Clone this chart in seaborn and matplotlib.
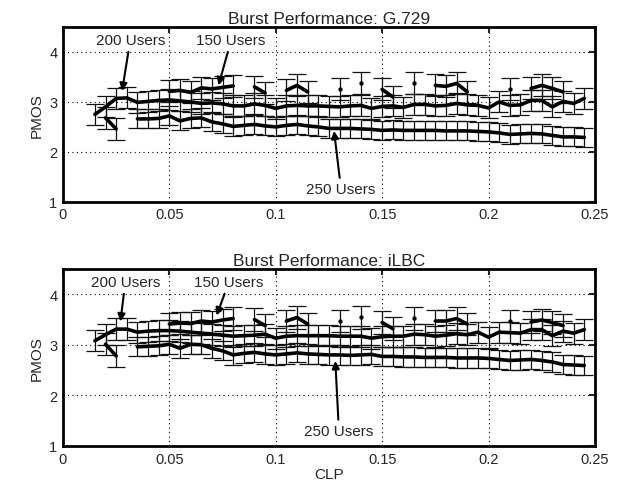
import numpy as np
import pandas as pd
import matplotlib
matplotlib.use("Agg")
import matplotlib.pyplot as plt
import seaborn as sns

# CLP grid (step 0.005)
clp_200 = np.round(np.arange(0.015, 0.2451, 0.005), 3)
clp_250 = np.round(np.arange(0.035, 0.2451, 0.005), 3)
clp_150 = np.round(np.arange(0.015, 0.2451, 0.005), 3)

# G.729
g729_200 = [2.75, 2.90, 3.07, 3.08, 2.99, 3.01, 3.03, 3.04, 3.02, 3.00, 2.97, 2.98,
            2.96, 2.92, 2.92, 2.96, 2.93, 2.87, 2.92, 2.93, 2.92, 2.92, 2.91, 2.90,
            2.92, 2.93, 2.87, 2.91, 2.92, 2.89, 2.95, 2.95, 2.92, 2.93, 2.97, 2.94,
            2.93, 2.88, 3.00, 2.93, 2.94, 3.03, 3.03, 2.90, 3.01, 2.97, 3.07]
g729_250 = [2.66, 2.66, 2.67, 2.72, 2.62, 2.67, 2.68, 2.60, 2.56, 2.51, 2.53, 2.55,
            2.52, 2.50, 2.53, 2.55, 2.52, 2.50, 2.47, 2.47, 2.47, 2.46, 2.45, 2.43,
            2.44, 2.43, 2.43, 2.43, 2.43, 2.42, 2.42, 2.42, 2.41, 2.40, 2.38, 2.35,
            2.36, 2.37, 2.36, 2.33, 2.30, 2.30, 2.29]
nan = np.nan
g729_150 = [nan, 2.68, 2.46, nan, nan, nan, nan, 3.21, 3.23, 3.19, 3.28, 3.26,
            3.29, 3.32, nan, 3.30, 3.18, nan, 3.23, 3.33, 3.20, nan, nan, 3.25,
            nan, 3.37, nan, 3.25, 3.10, nan, 3.37, nan, 3.33, 3.31, 3.37, 3.20,
            nan, nan, nan, 3.25, nan, 3.27, 3.33, 3.27, 3.20, nan, nan]

# iLBC
ilbc_200 = [3.08, 3.20, 3.31, 3.31, 3.25, 3.27, 3.28, 3.28, 3.27, 3.25, 3.23, 3.21,
            3.19, 3.17, 3.18, 3.19, 3.21, 3.13, 3.17, 3.18, 3.18, 3.18, 3.18, 3.17,
            3.17, 3.17, 3.13, 3.16, 3.17, 3.17, 3.21, 3.20, 3.17, 3.19, 3.22, 3.20,
            3.25, 3.15, 3.25, 3.24, 3.23, 3.30, 3.30, 3.18, 3.27, 3.23, 3.30]
ilbc_250 = [2.96, 2.97, 2.98, 3.01, 2.93, 3.01, 3.00, 2.93, 2.88, 2.80, 2.83, 2.85,
            2.82, 2.80, 2.82, 2.84, 2.82, 2.81, 2.80, 2.80, 2.79, 2.80, 2.81, 2.77,
            2.77, 2.76, 2.76, 2.75, 2.75, 2.75, 2.74, 2.74, 2.74, 2.73, 2.71, 2.69,
            2.70, 2.71, 2.69, 2.66, 2.61, 2.60, 2.59]
ilbc_150 = [nan, 3.01, 2.78, nan, nan, nan, nan, 3.41, 3.43, 3.42, 3.47, 3.45,
            3.49, 3.52, nan, 3.50, 3.38, nan, 3.47, 3.54, 3.41, nan, nan, 3.47,
            nan, 3.54, nan, 3.44, 3.32, nan, 3.52, nan, 3.47, 3.47, 3.52, 3.41,
            nan, nan, nan, 3.47, nan, 3.45, 3.49, 3.44, 3.38, nan, nan]

# error bar half-widths (approx.)
err_200 = 0.21
err_250 = 0.19
err_150 = 0.22

titles = ["Burst Performance: G.729", "Burst Performance: iLBC"]


def segments(x, y):
    df = pd.DataFrame({"CLP": x, "PMOS": y})
    df["seg"] = df["PMOS"].isna().cumsum()
    return df.dropna()


def draw_panel(ax, y200, y250, y150, title, label_pos):
    for x, y, e in [(clp_200, y200, err_200), (clp_250, y250, err_250), (clp_150, y150, err_150)]:
        ax.errorbar(x, y, yerr=e, fmt="none", ecolor="#111111", elinewidth=0.9,
                    capsize=6.5, capthick=0.9, zorder=2)
    sns.lineplot(x=clp_200, y=y200, ax=ax, color="black", linewidth=2.6, zorder=3)
    sns.lineplot(x=clp_250, y=y250, ax=ax, color="black", linewidth=2.6, zorder=3)
    df150 = segments(clp_150, y150)
    sns.lineplot(data=df150, x="CLP", y="PMOS", units="seg", estimator=None, ax=ax,
                 color="black", linewidth=2.6, zorder=3)
    counts = df150["seg"].value_counts()
    single = df150[df150["seg"].isin(counts[counts == 1].index)]
    sns.scatterplot(data=single, x="CLP", y="PMOS", ax=ax, color="black", s=8,
                    edgecolor="black", zorder=4)

    arrow = dict(arrowstyle="-|>", color="black", lw=1.5, mutation_scale=11,
                 shrinkA=1, shrinkB=0)
    for text, txy, hxy in label_pos:
        ax.annotate(text, xy=hxy, xytext=txy, ha="center", va="center",
                    fontsize=11, arrowprops=arrow, zorder=5)

    ax.set_xlim(0, 0.25)
    ax.set_ylim(1, 4.5)
    ax.set_xticks([0, 0.05, 0.1, 0.15, 0.2, 0.25])
    ax.set_xticklabels(["0", "0.05", "0.1", "0.15", "0.2", "0.25"])
    ax.set_yticks([1, 2, 3, 4])
    ax.grid(True, linestyle=(0, (1, 3)), color="black", linewidth=0.8)
    ax.tick_params(direction="in", top=True, right=True, length=4, width=1.5,
                   labelsize=10.5, pad=4)
    for s in ax.spines.values():
        s.set_color("black")
        s.set_linewidth(2)
    ax.set_title(title, fontsize=12.5, pad=3)
    ax.set_ylabel("PMOS", fontsize=11)
    ax.set_xlabel("")


sns.set_style("white")
plt.rcParams["font.family"] = ["Liberation Sans", "DejaVu Sans"]

fig = plt.figure(figsize=(6.31, 4.89), dpi=100)
ax1 = fig.add_axes([0.0998, 0.585, 0.843, 0.358])
ax2 = fig.add_axes([0.0998, 0.086, 0.843, 0.362])

draw_panel(ax1, g729_200, g729_250, g729_150, titles[0], [
    ("200 Users", (0.0316, 4.23), (0.0278, 3.22)),
    ("150 Users", (0.079, 4.23), (0.0731, 3.33)),
    ("250 Users", (0.1307, 1.25), (0.1274, 2.42)),
])
draw_panel(ax2, ilbc_200, ilbc_250, ilbc_150, titles[1], [
    ("200 Users", (0.0293, 4.24), (0.027, 3.46)),
    ("150 Users", (0.078, 4.24), (0.0722, 3.58)),
    ("250 Users", (0.1297, 1.29), (0.128, 2.68)),
])
ax2.set_xlabel("CLP", fontsize=11, labelpad=1)

fig.savefig("out.png", dpi=100)
